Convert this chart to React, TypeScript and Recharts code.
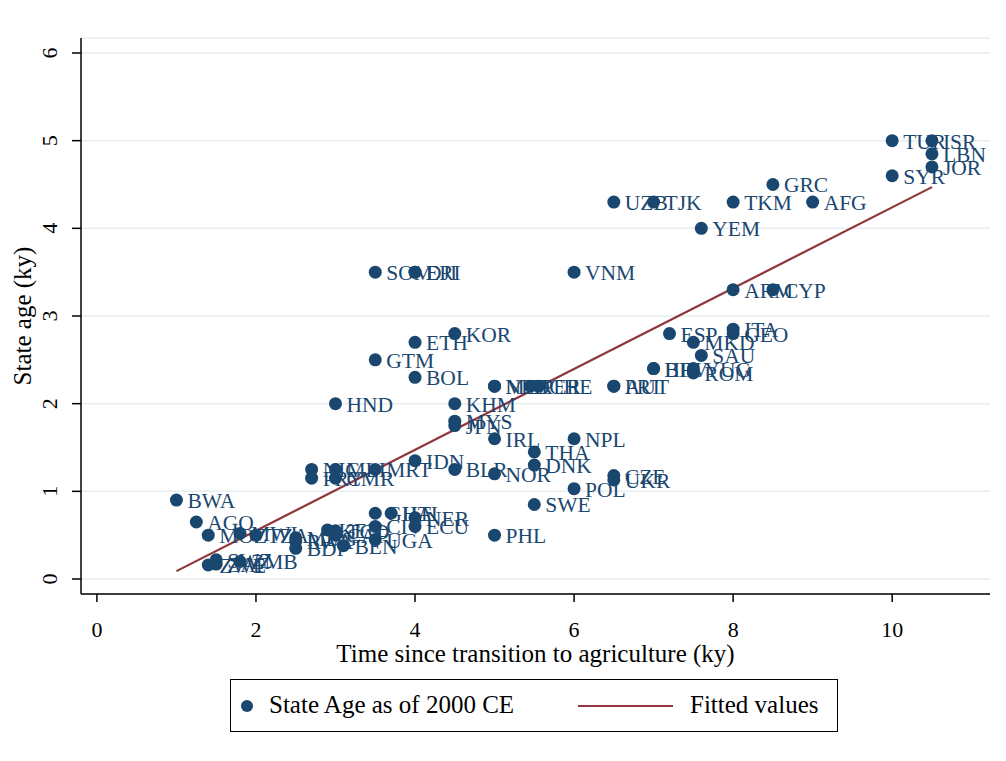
import {
  ComposedChart,
  Scatter,
  Line,
  XAxis,
  YAxis,
  CartesianGrid,
  LabelList,
} from 'recharts';

// country codes with (time since agriculture, state age), both in ky
const codes = [
  'BWA', 'AGO', 'MOZ', 'MWI', 'TZA', 'ZWE', 'SWZ', 'ZAF', 'ZMB', 'MDG',
  'RWA', 'BDI', 'KEN', 'TCD', 'CAF', 'BEN', 'CIV', 'UGA', 'GHA', 'HTI',
  'NER', 'ECU', 'NIC', 'PRY', 'MLI', 'CMR', 'MRT', 'IDN', 'BLR', 'NOR',
  'IRL', 'THA', 'DNK', 'NPL', 'POL', 'CZE', 'UKR', 'SWE', 'PHL', 'KHM',
  'MYS', 'JPN', 'HND', 'BOL', 'GTM', 'ETH', 'KOR', 'SOM', 'ERI', 'DJI',
  'VNM', 'MEX', 'NLD', 'PER', 'CHE', 'PRT', 'AUT', 'HRV', 'BIH', 'YUG',
  'ROM', 'ESP', 'MKD', 'SAU', 'ITA', 'GEO', 'ARM', 'CYP', 'YEM', 'UZB',
  'TJK', 'TKM', 'AFG', 'GRC', 'TUR', 'ISR', 'LBN', 'JOR', 'SYR',
];
const agriTime = [
  1.0, 1.25, 1.4, 1.8, 2.0, 1.4, 1.5, 1.5, 1.8, 2.5,
  2.5, 2.5, 2.9, 3.0, 3.0, 3.1, 3.5, 3.5, 3.5, 3.7,
  4.0, 4.0, 2.7, 2.7, 3.0, 3.0, 3.5, 4.0, 4.5, 5.0,
  5.0, 5.5, 5.5, 6.0, 6.0, 6.5, 6.5, 5.5, 5.0, 4.5,
  4.5, 4.5, 3.0, 4.0, 3.5, 4.0, 4.5, 3.5, 4.0, 4.0,
  6.0, 5.0, 5.0, 5.45, 5.55, 6.5, 6.5, 7.0, 7.0, 7.5,
  7.5, 7.2, 7.5, 7.6, 8.0, 8.0, 8.0, 8.5, 7.6, 6.5,
  7.0, 8.0, 9.0, 8.5, 10.0, 10.5, 10.5, 10.5, 10.0,
];
const stateAge = [
  0.9, 0.65, 0.5, 0.52, 0.5, 0.16, 0.22, 0.17, 0.2, 0.47,
  0.43, 0.35, 0.56, 0.55, 0.5, 0.38, 0.6, 0.45, 0.75, 0.75,
  0.7, 0.6, 1.25, 1.15, 1.25, 1.15, 1.25, 1.35, 1.25, 1.2,
  1.6, 1.45, 1.3, 1.6, 1.03, 1.18, 1.13, 0.85, 0.5, 2.0,
  1.8, 1.75, 2.0, 2.3, 2.5, 2.7, 2.8, 3.5, 3.5, 3.5,
  3.5, 2.2, 2.2, 2.2, 2.2, 2.2, 2.2, 2.4, 2.4, 2.4,
  2.35, 2.8, 2.7, 2.55, 2.85, 2.8, 3.3, 3.3, 4.0, 4.3,
  4.3, 4.3, 4.3, 4.5, 5.0, 5.0, 4.85, 4.7, 4.6,
];

// fitted line at the smallest and largest x
const fitX = [1.0, 10.5];
const fitY = [0.09, 4.47];

const xTicks = [0, 2, 4, 6, 8, 10];
const yTicks = [0, 1, 2, 3, 4, 5, 6];

const points = codes.map((c, i) => ({ code: c, x: agriTime[i], y: stateAge[i] }));
const fitted = fitX.map((x, i) => ({ x, y: fitY[i] }));

const NAVY = '#1a476f';
const MAROON = '#90353b';
const FONT = '"Liberation Serif", "DejaVu Serif", serif';

function YTick(props: any) {
  const { x, y, payload } = props;
  return (
    <text
      x={x}
      y={y}
      transform={`rotate(-90 ${x} ${y})`}
      textAnchor='middle'
      fontSize={22}
      fontFamily={FONT}
      fill='#000'
    >
      {payload.value}
    </text>
  );
}

function PointLabel(props: any) {
  const { x, y, width, height, value } = props;
  const cx = x + width / 2;
  const cy = y + height / 2;
  return (
    <text x={cx + 11} y={cy + 8} fontSize={21.5} fontFamily={FONT} fill={NAVY}>
      {value}
    </text>
  );
}

export default function App() {
  return (
    <div style={{ position: 'absolute', left: 0, top: 0, width: 1006, height: 761, background: '#fff' }}>
      <ComposedChart
        width={1006}
        height={761}
        margin={{ top: 38, right: 16, left: 0, bottom: 87 }}
      >
        <CartesianGrid horizontal vertical={false} stroke='#e6eef1' strokeWidth={1.5} />
        <XAxis
          dataKey='x'
          type='number'
          domain={[-0.2, 11.23]}
          ticks={xTicks}
          allowDataOverflow
          stroke='#000'
          strokeWidth={1.5}
          tickSize={8}
          tickMargin={19}
          height={80}
          tick={{ fill: '#000', fontSize: 22, fontFamily: FONT }}
          label={{
            value: 'Time since transition to agriculture (ky)',
            position: 'insideBottom',
            offset: 12,
            fill: '#000',
            fontSize: 25,
            fontFamily: FONT,
          }}
        />
        <YAxis
          dataKey='y'
          type='number'
          domain={[-0.171, 6.171]}
          ticks={yTicks}
          allowDataOverflow
          width={81}
          stroke='#000'
          strokeWidth={1.5}
          tickSize={9}
          tickMargin={15}
          tick={<YTick />}
          label={{
            value: 'State age (ky)',
            angle: -90,
            position: 'insideLeft',
            offset: 22,
            style: { textAnchor: 'middle' },
            fill: '#000',
            fontSize: 25,
            fontFamily: FONT,
          }}
        />
        <Scatter
          data={points}
          dataKey='y'
          fill={NAVY}
          isAnimationActive={false}
          shape={(p: any) => <circle cx={p.cx} cy={p.cy} r={6.5} fill={NAVY} />}
        >
          <LabelList dataKey='code' content={<PointLabel />} />
        </Scatter>
        <Line
          data={fitted}
          dataKey='y'
          type='linear'
          stroke={MAROON}
          strokeWidth={2.2}
          dot={false}
          activeDot={false}
          isAnimationActive={false}
        />
      </ComposedChart>
      <div
        style={{
          position: 'absolute',
          left: 230,
          top: 679,
          width: 608,
          height: 53,
          border: '1.5px solid #000',
          fontFamily: FONT,
          fontSize: 25,
          color: '#000',
          boxSizing: 'border-box',
        }}
      >
        <span style={{ position: 'absolute', left: 10, top: 20, width: 12, height: 12, borderRadius: '50%', background: NAVY }} />
        <span style={{ position: 'absolute', left: 38, top: 10, lineHeight: '30px', whiteSpace: 'nowrap' }}>
          State Age as of 2000 CE
        </span>
        <span style={{ position: 'absolute', left: 347, top: 25, width: 95, height: 2, background: MAROON }} />
        <span style={{ position: 'absolute', left: 459, top: 10, lineHeight: '30px', whiteSpace: 'nowrap' }}>
          Fitted values
        </span>
      </div>
    </div>
  );
}
